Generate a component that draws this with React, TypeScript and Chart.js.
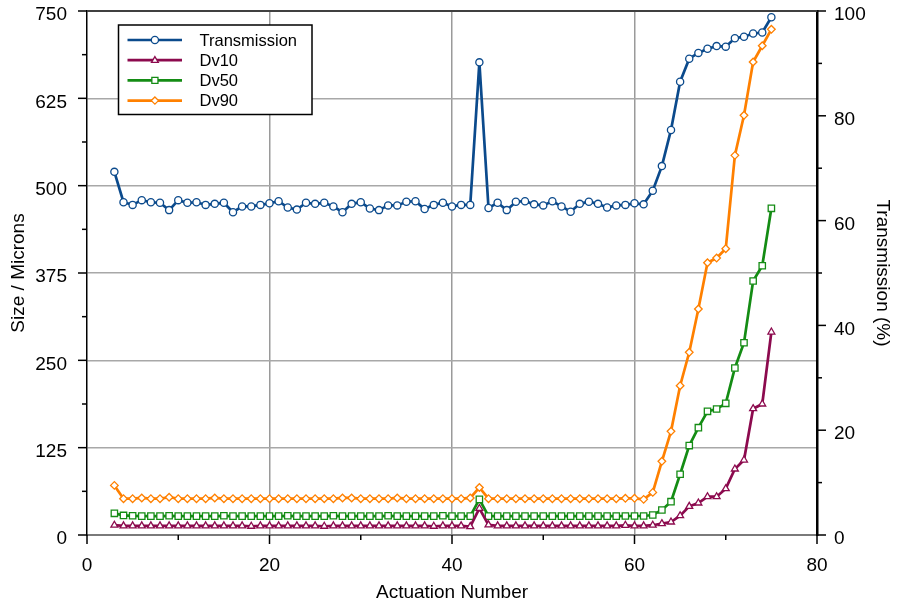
import React, { useEffect, useRef } from "react";
import { Chart, registerables } from "chart.js";

Chart.register(...registerables);

const actuations = [
  3, 4, 5, 6, 7, 8, 9, 10, 11, 12,
  13, 14, 15, 16, 17, 18, 19, 20, 21, 22,
  23, 24, 25, 26, 27, 28, 29, 30, 31, 32,
  33, 34, 35, 36, 37, 38, 39, 40, 41, 42,
  43, 44, 45, 46, 47, 48, 49, 50, 51, 52,
  53, 54, 55, 56, 57, 58, 59, 60, 61, 62,
  63, 64, 65, 66, 67, 68, 69, 70, 71, 72,
  73, 74, 75,
];

const transmission = [
  69.3, 63.5, 63.0, 63.9, 63.5, 63.4, 62.0, 63.9, 63.4, 63.5,
  63.0, 63.2, 63.4, 61.6, 62.7, 62.7, 63.0, 63.3, 63.7, 62.5,
  62.1, 63.4, 63.2, 63.4, 62.7, 61.6, 63.2, 63.5, 62.3, 62.0,
  62.9, 62.9, 63.6, 63.7, 62.2, 63.0, 63.4, 62.7, 63.0, 63.0,
  90.2, 62.4, 63.4, 62.0, 63.6, 63.7, 63.1, 62.9, 63.7, 62.7,
  61.7, 63.2, 63.6, 63.2, 62.5, 62.9, 63.0, 63.3, 63.1, 65.7,
  70.4, 77.3, 86.5, 90.9, 92.0, 92.8, 93.3, 93.2, 94.8, 95.1,
  95.7, 95.9, 98.8,
];

const dv10 = [
  14, 13, 13, 13, 13, 13, 13, 13, 13, 13,
  13, 13, 13, 13, 13, 12.5, 13, 13, 13, 13,
  13, 13, 13, 12.5, 13, 13, 13, 13, 13, 13,
  13, 13, 13, 13, 13, 12.5, 13, 13, 13, 12,
  38, 14.5, 13, 13, 13, 13, 13, 13, 13, 13,
  13, 13, 13, 13, 13, 13, 13.9, 13, 13, 14,
  16.2, 18.6, 27.6, 41, 45.8, 54.8, 54.8, 66.3, 94.5, 107.3,
  180.8, 187.5, 290.5,
];

const dv50 = [
  31, 28, 27.5, 27, 27, 27, 27.5, 27, 27, 27,
  27, 27, 27.5, 27, 27, 27, 27, 27, 27, 27.5,
  27, 27, 27, 27, 27.5, 27, 27, 27, 27, 27,
  27.5, 27, 27, 27, 27, 27, 27.5, 27, 27, 27,
  51, 27, 27, 27, 27, 27, 27, 27, 27, 27,
  27, 27, 27, 27, 27, 27, 27.2, 27.2, 27.2, 28.6,
  35.8, 47.7, 86.9, 128, 153.6, 177, 180.3, 188.5, 239, 275.2,
  363.5, 385.4, 467.6,
];

const dv90 = [
  71, 52, 52, 53, 52, 52, 54, 52, 52, 52,
  52, 53, 52, 52, 52, 52, 52, 52, 52, 52,
  52, 52, 52, 52, 52, 53, 53, 52, 52, 52,
  52, 53, 52, 52, 52, 52, 52, 52, 52, 53,
  68, 52, 52, 52, 52, 52, 52, 52, 52, 52,
  52, 52, 52, 52, 52, 52, 52.5, 52.5, 51, 61,
  105.5, 148.4, 213.7, 261.5, 323.5, 389.7, 396.4, 409.8, 543.4, 600.7,
  677, 700.3, 723.8,
];

const seriesNames = ["Transmission", "Dv10", "Dv50", "Dv90"];
const seriesColors = ["#0b4a8c", "#8c0a4e", "#148c14", "#ff8000"];
const seriesMarkers = ["circle", "triangle", "rect", "rectRot"];

const FONT = "'Liberation Sans', Arial, sans-serif";

function toPoints(values: number[]) {
  return values.map((v, i) => ({ x: actuations[i], y: v }));
}

function drawMarker(ctx: CanvasRenderingContext2D, style: string, x: number, y: number, r: number) {
  ctx.beginPath();
  if (style === "circle") {
    ctx.arc(x, y, r, 0, Math.PI * 2);
  } else if (style === "triangle") {
    ctx.moveTo(x, y - r);
    ctx.lineTo(x + r * 0.95, y + r * 0.6);
    ctx.lineTo(x - r * 0.95, y + r * 0.6);
    ctx.closePath();
  } else if (style === "rect") {
    ctx.rect(x - r * 0.85, y - r * 0.85, r * 1.7, r * 1.7);
  } else {
    ctx.moveTo(x, y - r);
    ctx.lineTo(x + r, y);
    ctx.lineTo(x, y + r);
    ctx.lineTo(x - r, y);
    ctx.closePath();
  }
  ctx.fill();
  ctx.stroke();
}

const framePlugin = {
  id: "framePlugin",
  afterDraw(chart: any) {
    const ctx = chart.ctx as CanvasRenderingContext2D;
    const area = chart.chartArea;
    ctx.save();
    // top border
    ctx.strokeStyle = "#404040";
    ctx.lineWidth = 2;
    ctx.beginPath();
    ctx.moveTo(area.left, area.top);
    ctx.lineTo(area.right + 1, area.top);
    ctx.stroke();

    ctx.strokeStyle = "#000";
    ctx.lineWidth = 1.5;
    const xs = chart.scales.x;
    xs.ticks.forEach((t: any) => {
      const px = xs.getPixelForValue(t.value);
      const len = t.value % 20 === 0 ? 9 : 5;
      ctx.beginPath();
      ctx.moveTo(px, area.bottom);
      ctx.lineTo(px, area.bottom + len);
      ctx.stroke();
    });
    const ys = chart.scales.y;
    ys.ticks.forEach((t: any) => {
      const py = ys.getPixelForValue(t.value);
      const len = t.value % 125 === 0 ? 9 : 5;
      ctx.beginPath();
      ctx.moveTo(area.left, py);
      ctx.lineTo(area.left - len, py);
      ctx.stroke();
    });
    const y1 = chart.scales.y1;
    y1.ticks.forEach((t: any) => {
      const py = y1.getPixelForValue(t.value);
      const len = t.value % 20 === 0 ? 9 : 5;
      ctx.beginPath();
      ctx.moveTo(area.right, py);
      ctx.lineTo(area.right + len, py);
      ctx.stroke();
    });

    // legend
    const bx = area.left + 31.5;
    const by = area.top + 14;
    const bw = 193.5;
    const bh = 89.5;
    ctx.fillStyle = "#fff";
    ctx.fillRect(bx, by, bw, bh);
    ctx.strokeStyle = "#000";
    ctx.lineWidth = 1.5;
    ctx.strokeRect(bx, by, bw, bh);
    ctx.font = `16.5px ${FONT}`;
    ctx.textBaseline = "middle";
    ctx.textAlign = "left";
    seriesNames.forEach((name, i) => {
      const ry = by + 15 + i * 20.2;
      ctx.strokeStyle = seriesColors[i];
      ctx.lineWidth = 2.7;
      ctx.beginPath();
      ctx.moveTo(bx + 9, ry);
      ctx.lineTo(bx + 63.5, ry);
      ctx.stroke();
      ctx.fillStyle = "#fff";
      ctx.lineWidth = 1.3;
      drawMarker(ctx, seriesMarkers[i], bx + 36.4, ry, 3.6);
      ctx.fillStyle = "#000";
      ctx.fillText(name, bx + 81, ry + 1);
    });
    ctx.restore();
  },
};

export default function App() {
  const canvasRef = useRef<HTMLCanvasElement | null>(null);

  useEffect(() => {
    const canvas = canvasRef.current;
    if (!canvas) return;
    const tickFont = { family: FONT, size: 19 };
    const titleFont = { family: FONT, size: 19 };
    const mk = (i: number, values: number[], axis: string, radius: number) => ({
      label: seriesNames[i],
      data: toPoints(values),
      yAxisID: axis,
      borderColor: seriesColors[i],
      backgroundColor: "#ffffff",
      pointBorderColor: seriesColors[i],
      pointBackgroundColor: "#ffffff",
      pointStyle: seriesMarkers[i],
      pointRadius: radius,
      pointBorderWidth: 1.3,
      borderWidth: 2.7,
      tension: 0,
      fill: false,
    });
    const fitV = (s: any) => {
      s.width = 87;
      s.paddingTop = 0;
      s.paddingBottom = 0;
    };
    const chart = new Chart(canvas, {
      type: "line",
      data: {
        datasets: [
          mk(0, transmission, "y1", 3.6),
          mk(1, dv10, "y", 4.0),
          mk(2, dv50, "y", 4.5),
          mk(3, dv90, "y", 3.8),
        ],
      },
      options: {
        responsive: false,
        animation: false,
        maintainAspectRatio: false,
        layout: { padding: { top: 11, left: 0, right: 0, bottom: 0 } },
        plugins: {
          legend: { display: false },
          tooltip: { enabled: false },
        },
        scales: {
          x: {
            type: "linear",
            min: 0,
            max: 80,
            afterFit: (s: any) => { s.height = 69; },
            ticks: {
              stepSize: 10,
              autoSkip: false,
              maxRotation: 0,
              color: "#000",
              font: tickFont,
              padding: 19,
              callback: (v: any) => (Number(v) % 20 === 0 ? String(v) : ""),
            },
            grid: {
              drawTicks: false,
              lineWidth: 1.5,
              color: (c: any) => {
                const v = c.tick ? c.tick.value : 0;
                return v % 20 === 0 && v > 0 && v < 80 ? "#9a9a9a" : "rgba(0,0,0,0)";
              },
            },
            border: { color: "#7a7a7a", width: 2 },
            title: {
              display: true,
              text: "Actuation Number",
              color: "#000",
              font: titleFont,
              padding: { top: 0, bottom: 0 },
            },
          },
          y: {
            type: "linear",
            position: "left",
            min: 0,
            max: 750,
            afterFit: fitV,
            ticks: {
              stepSize: 62.5,
              autoSkip: false,
              color: "#000",
              font: tickFont,
              padding: 20,
              labelOffset: 4,
              callback: (v: any) => (Number(v) % 125 === 0 ? String(v) : ""),
            },
            grid: {
              drawTicks: false,
              lineWidth: 1.5,
              color: (c: any) => {
                const v = c.tick ? c.tick.value : 0;
                return v % 125 === 0 && v > 0 && v < 750 ? "#a8a8a8" : "rgba(0,0,0,0)";
              },
            },
            border: { color: "#000", width: 1.5 },
            title: {
              display: true,
              text: "Size / Microns",
              color: "#000",
              font: titleFont,
              padding: { top: 7, bottom: 0 },
            },
          },
          y1: {
            type: "linear",
            position: "right",
            min: 0,
            max: 100,
            afterFit: fitV,
            ticks: {
              stepSize: 10,
              autoSkip: false,
              color: "#000",
              font: tickFont,
              padding: 17,
              labelOffset: 4,
              callback: (v: any) => (Number(v) % 20 === 0 ? String(v) : ""),
            },
            grid: { drawOnChartArea: false, drawTicks: false },
            border: { color: "#000", width: 2.5 },
            title: {
              display: true,
              text: "Transmission (%)",
              color: "#000",
              font: titleFont,
              padding: { top: 10, bottom: 0 },
            },
          },
        },
      },
      plugins: [framePlugin],
    } as any);
    return () => chart.destroy();
  }, []);

  return (
    <div style={{ position: "fixed", left: 0, top: 0, width: 904, height: 604, background: "#fff" }}>
      <canvas ref={canvasRef} width={904} height={604} style={{ display: "block", width: 904, height: 604 }} />
    </div>
  );
}
